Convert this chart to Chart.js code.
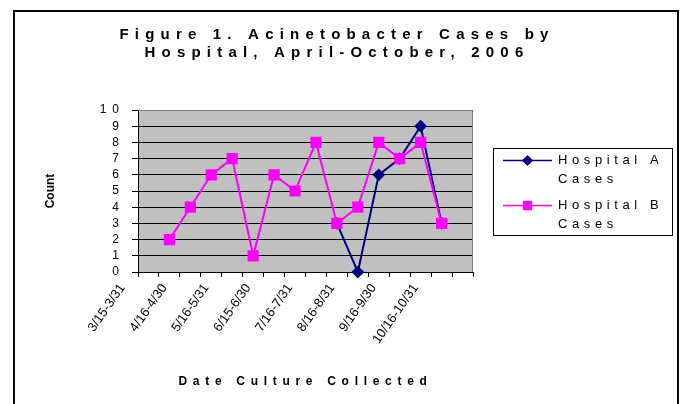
<!DOCTYPE html>
<html>
<head>
<meta charset="utf-8">
<script src="https://cdn.jsdelivr.net/npm/chart.js@4/dist/chart.umd.min.js"></script>
<style>
  html, body { margin: 0; padding: 0; background: #fff; }
  #wrap { width: 680px; height: 404px; }
</style>
</head>
<body>
<div id="wrap"><canvas id="acinetoChart" width="680" height="404"></canvas></div>
<script>
// two-week collection periods, only every other one gets a label on the axis
const periods = ['3/15-3/31', '4/1-4/15', '4/16-4/30', '5/1-5/15', '5/16-5/31', '6/1-6/14', '6/15-6/30', '7/1-7/15',
  '7/16-7/31', '8/1-8/15', '8/16-8/31', '9/1-9/15', '9/16-9/30', '10/1-10/15', '10/16-10/31', '11/1-11/15'];
const hospitalA = [null, null, null, null, null, null, null, null, null, 3, 0, 6, 7, 9, 3, null];
const hospitalB = [null, 2, 4, 6, 7, 1, 6, 5, 8, 3, 4, 8, 7, 8, 3, null];
const titleLines = ['Figure 1. Acinetobacter Cases by', 'Hospital, April-October, 2006'];

const FONT = "'Liberation Sans', Arial, sans-serif";
Chart.defaults.font.family = FONT;
Chart.defaults.color = '#000';

// the old excel export has spread-out letters, canvas can do that with letterSpacing
function spaced(px, fn) {
  return function (...args) {
    const ctx = this.ctx;
    const old = ctx.letterSpacing;
    ctx.letterSpacing = px + 'px';
    const r = fn.apply(this, args);
    ctx.letterSpacing = old;
    return r;
  };
}

const spacingPlugin = {
  id: 'spacing',
  afterLayout(chart) {
    const t = chart.titleBlock;
    if (t && !t._spaced) { t.draw = spaced(6.2, t.draw); t._spaced = true; }
    const y = chart.scales.y;
    if (!y._spaced) { y.drawLabels = spaced(6, y.drawLabels); y._spaced = true; }
    const x = chart.scales.x;
    if (!x._spaced) { x.drawTitle = spaced(5.7, x.drawTitle); x._spaced = true; }
  }
};

const frame = {
  id: 'frame',
  beforeDraw(chart) {
    const {ctx, chartArea: a} = chart;
    ctx.save();
    ctx.strokeStyle = '#000';
    ctx.lineWidth = 2;
    ctx.strokeRect(14, 11, 664, 430);
    ctx.fillStyle = '#C0C0C0';
    ctx.fillRect(a.left, a.top, a.width, a.height);
    ctx.restore();
  },
  beforeDatasetsDraw(chart) {
    const {ctx, chartArea: a} = chart;
    ctx.save();
    ctx.strokeStyle = '#808080';
    ctx.lineWidth = 1;
    ctx.beginPath();
    ctx.moveTo(a.left, a.top + 0.5);
    ctx.lineTo(a.right - 0.5, a.top + 0.5);
    ctx.lineTo(a.right - 0.5, a.bottom);
    ctx.stroke();
    ctx.restore();
  }
};

// legend on the right with wrapped labels, added as a layout box
const sideLegend = {
  id: 'sideLegend',
  beforeInit(chart) {
    const box = {
      position: 'right', weight: 10, fullSize: false, options: {},
      left: 0, top: 0, right: 0, bottom: 0, width: 0, height: 0,
      isHorizontal() { return false; },
      update(maxWidth, maxHeight) { this.width = 161; this.height = maxHeight; },
      draw() {
        const ctx = chart.ctx;
        const bw = 179, bh = 87;
        const bx = this.left + 20;
        const by = Math.round(this.top + this.height / 2 - bh / 2);
        ctx.save();
        ctx.fillStyle = '#fff';
        ctx.fillRect(bx, by, bw, bh);
        ctx.strokeStyle = '#000';
        ctx.lineWidth = 1;
        ctx.strokeRect(bx + 0.5, by + 0.5, bw, bh);
        ctx.font = '13px ' + FONT;
        ctx.letterSpacing = '4.6px';
        ctx.textBaseline = 'middle';
        const textX = bx + 65;
        const maxW = bx + bw - textX;
        chart.data.datasets.forEach((ds, i) => {
          const y0 = by + 12.5 + i * 45;
          ctx.strokeStyle = ds.borderColor;
          ctx.lineWidth = 1.5;
          ctx.beginPath();
          ctx.moveTo(bx + 10, y0);
          ctx.lineTo(bx + 59, y0);
          ctx.stroke();
          ctx.fillStyle = ds.pointBackgroundColor;
          Chart.helpers.drawPoint(ctx, {pointStyle: ds.pointStyle, rotation: 0,
            radius: ds.pointStyle === 'rect' ? 5.5 : 4.5, borderWidth: 1}, bx + 34.5, y0);
          // word wrap
          const lines = [];
          let cur = '';
          ds.label.split(' ').forEach(w => {
            const test = cur ? cur + ' ' + w : w;
            if (cur && ctx.measureText(test).width > maxW) { lines.push(cur); cur = w; } else { cur = test; }
          });
          lines.push(cur);
          ctx.fillStyle = '#000';
          lines.forEach((ln, j) => ctx.fillText(ln, textX, y0 + j * 18.5));
        });
        ctx.restore();
      }
    };
    Chart.layouts.addBox(chart, box);
  }
};

new Chart(document.getElementById('acinetoChart'), {
  type: 'line',
  data: {
    labels: periods,
    datasets: [{
      label: 'Hospital A Cases',
      data: hospitalA,
      borderColor: '#000080',
      backgroundColor: '#000080',
      pointBackgroundColor: '#000080',
      pointBorderColor: '#000080',
      pointStyle: 'rectRot',
      pointRadius: 5,
      borderWidth: 2,
      clip: false,
      order: 1
    }, {
      label: 'Hospital B Cases',
      data: hospitalB,
      borderColor: '#FF00FF',
      backgroundColor: '#FF00FF',
      pointBackgroundColor: '#FF00FF',
      pointBorderColor: '#FF00FF',
      pointStyle: 'rect',
      pointRadius: 6.5,
      borderWidth: 2,
      clip: false,
      order: 0
    }]
  },
  options: {
    responsive: false,
    animation: false,
    layout: { padding: { left: 40, right: 46, top: 0, bottom: 10 } },
    plugins: {
      legend: { display: false },
      tooltip: { enabled: false },
      title: {
        display: true,
        text: titleLines,
        font: { size: 15, weight: 'bold', lineHeight: 18 / 15 },
        color: '#000',
        padding: { top: 26, bottom: 48 }
      }
    },
    scales: {
      x: {
        offset: true,
        grid: { offset: true, drawOnChartArea: false, drawTicks: true, tickLength: 5, color: '#000' },
        border: { color: '#000' },
        ticks: {
          autoSkip: false, minRotation: 55, maxRotation: 55, labelOffset: -26, padding: 4,
          font: { size: 13 },
          callback: (v, i) => (i % 2 === 0 ? periods[i] : '')
        },
        title: { display: true, text: 'Date Culture Collected', font: { size: 12, weight: 'bold' }, padding: { top: 0, bottom: 5 } },
        afterFit(s) { s.height = 122; }
      },
      y: {
        min: 0, max: 10,
        ticks: { stepSize: 1, autoSkip: false, padding: 7, font: { size: 12 } },
        grid: { color: '#000', tickLength: 6 },
        border: { color: '#000' },
        title: { display: true, text: 'Count', font: { size: 12, weight: 'bold' }, padding: { top: 3, bottom: 0 } },
        afterFit(s) { s.width = 98; }
      }
    }
  },
  plugins: [spacingPlugin, frame, sideLegend]
});
</script>
</body>
</html>
